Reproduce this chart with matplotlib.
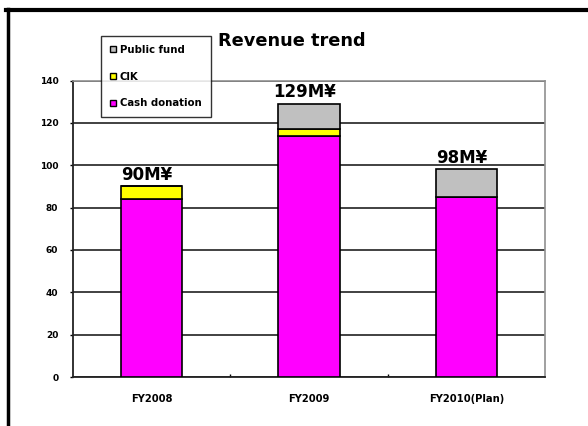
import numpy as np
import matplotlib.pyplot as plt
from matplotlib.lines import Line2D

years = ["FY2008", "FY2009", "FY2010(Plan)"]
cash_donation = [84, 114, 85]
cik = [6, 3, 0]
public_fund = [0, 12, 13]
totals = ["90M¥", "129M¥", "98M¥"]
y_ticks = [0, 20, 40, 60, 80, 100, 120, 140]

plt.rcParams['font.family'] = ['DejaVu Sans']

fig = plt.figure(figsize=(5.88, 4.26), dpi=100)
ax = fig.add_axes([0.124, 0.115, 0.803, 0.696])

x = np.arange(len(years))
w = 0.39
cash_top = np.array(cash_donation)
cik_top = cash_top + np.array(cik)

ax.bar(x, cash_donation, w, color="#FF00FF", edgecolor="black", linewidth=1.2, zorder=3)
ax.bar(x, cik, w, bottom=cash_top, color="#FFFF00", edgecolor="black", linewidth=1.2, zorder=3)
ax.bar(x, public_fund, w, bottom=cik_top, color="#C0C0C0", edgecolor="black", linewidth=1.2, zorder=3)

# total labels above each bar
bar_tops = cik_top + np.array(public_fund)
for xi, top, lab in zip(x, bar_tops, totals):
    ax.text(xi - 0.03, top + 1.2, lab, ha="center", va="bottom", fontsize=12,
            fontweight="bold", zorder=4)

ax.set_xlim(-0.5, 2.5)
ax.set_ylim(0, 140)
ax.set_yticks(y_ticks)
ax.set_yticklabels([str(v) for v in y_ticks], fontsize=6.5, fontweight="bold")
ax.set_xticks(x)
ax.set_xticklabels(years, fontsize=7.2, fontweight="bold")
ax.tick_params(axis="x", length=0, pad=12)
ax.tick_params(axis="y", length=2.5, width=1, pad=8)
ax.set_xticks([0.5, 1.5], minor=True)
ax.tick_params(axis="x", which="minor", direction="in", length=2, width=1)

ax.yaxis.grid(True, color="#333333", linewidth=1.3, zorder=1)
ax.set_axisbelow(True)
for side in ["top", "right"]:
    ax.spines[side].set_color("#909090")
    ax.spines[side].set_linewidth(1.2)
for side in ["left", "bottom"]:
    ax.spines[side].set_color("#222222")
    ax.spines[side].set_linewidth(1.3)

fig.text(0.371, 0.903, "Revenue trend", fontsize=12.8, fontweight="bold", va="center")

handles = [
    Line2D([], [], marker="s", linestyle="none", markersize=5, markerfacecolor="#C0C0C0", markeredgecolor="black"),
    Line2D([], [], marker="s", linestyle="none", markersize=5, markerfacecolor="#FFFF00", markeredgecolor="black"),
    Line2D([], [], marker="s", linestyle="none", markersize=5, markerfacecolor="#FF00FF", markeredgecolor="black"),
]
leg = fig.legend(handles, ["Public fund", "CIK", "Cash donation"], loc="upper left",
                 bbox_to_anchor=(0.172, 0.916), frameon=True, fancybox=False,
                 handlelength=0.6, handletextpad=0.35, labelspacing=1.65, borderpad=0.9,
                 borderaxespad=0, prop={"weight": "bold", "size": 7.3})
leg.get_frame().set_edgecolor("black")
leg.get_frame().set_linewidth(1.0)
leg.set_zorder(5)

# frame lines at top and left of the picture
fig.add_artist(Line2D([0.010, 1.0], [0.976, 0.976], color="black", linewidth=3, transform=fig.transFigure))
fig.add_artist(Line2D([0.013, 0.013], [0.0, 0.978], color="black", linewidth=2.5, transform=fig.transFigure))

fig.savefig("out.png", dpi=100)
